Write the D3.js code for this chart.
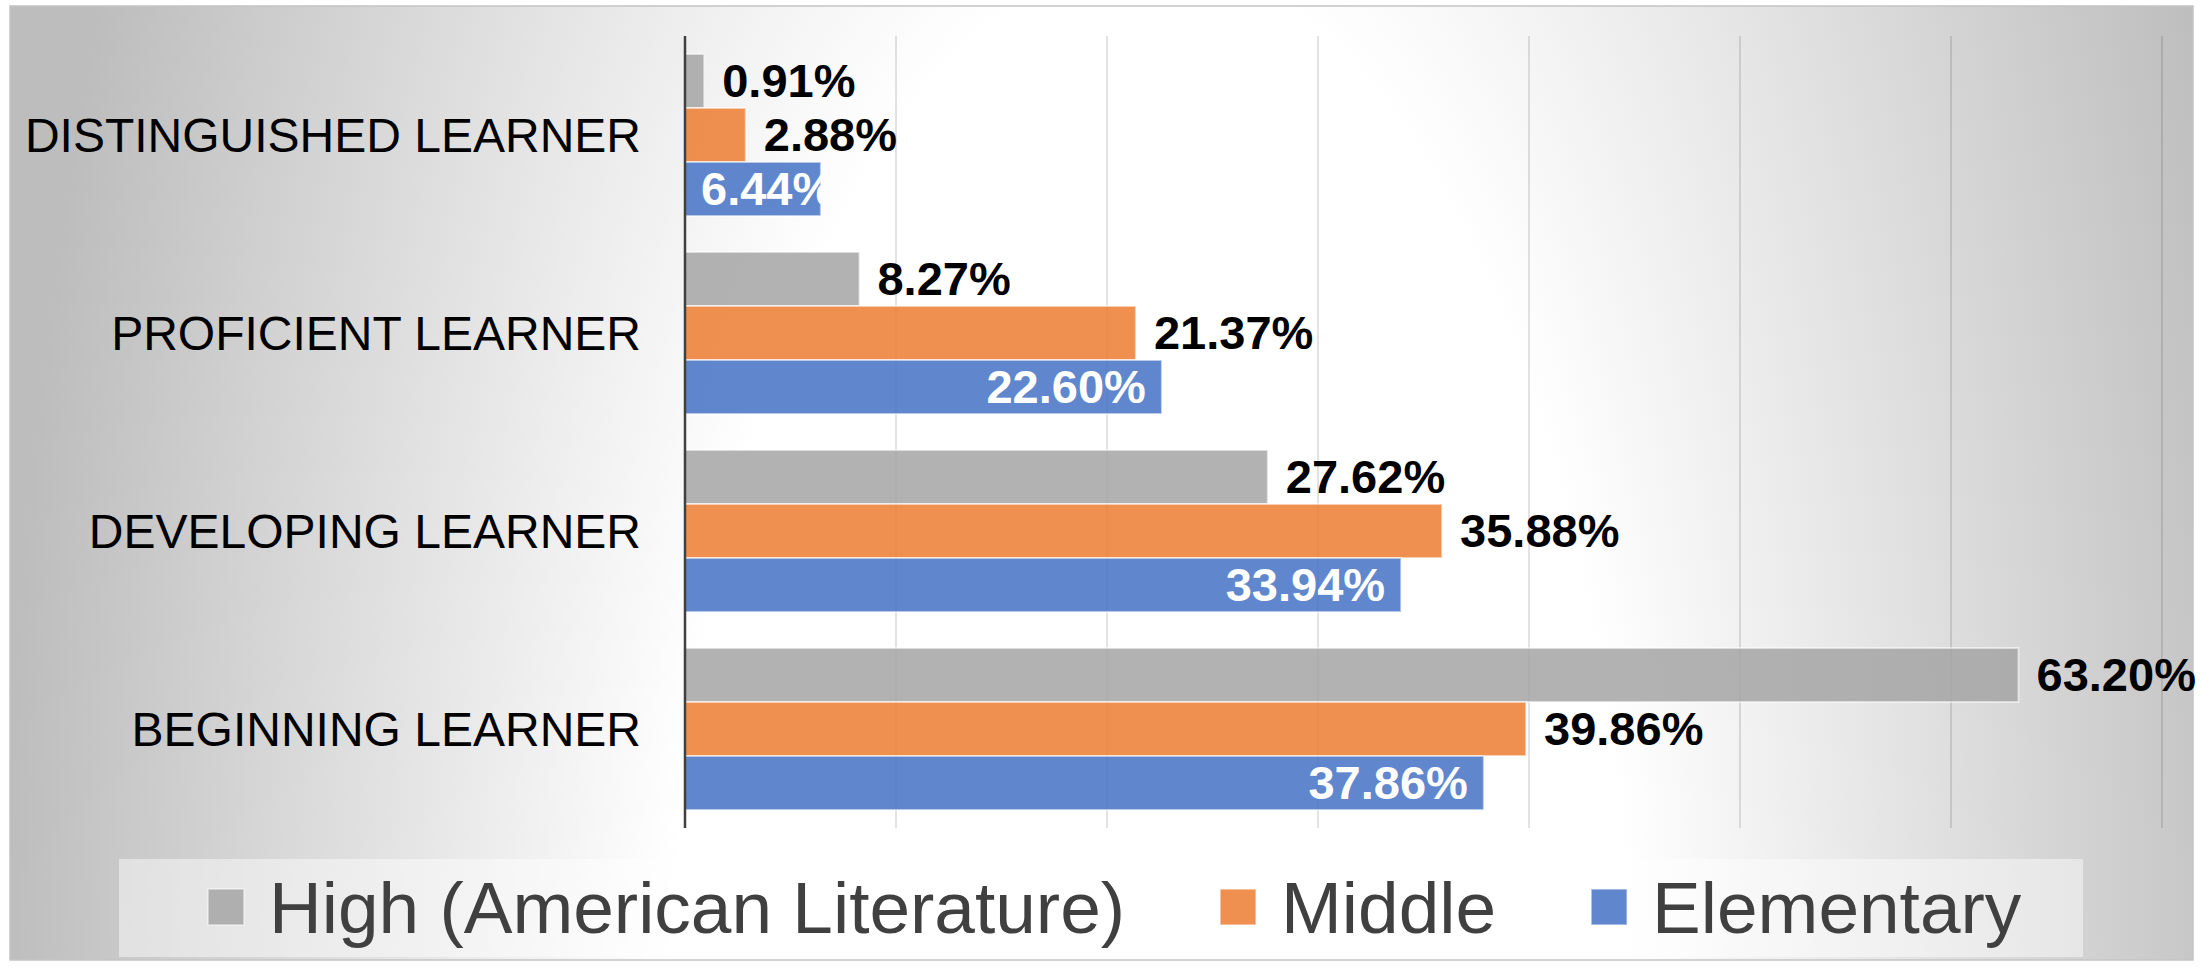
<!DOCTYPE html>
<html>
<head>
<meta charset="utf-8">
<script src="https://cdn.jsdelivr.net/npm/d3@7"></script>
<style>
  body { margin: 0; background: #fff; }
  text { font-family: "Liberation Sans", Arial, sans-serif; }
</style>
</head>
<body>
<svg id="chart" width="2201" height="969"></svg>
<script>
// data
const categories = ['DISTINGUISHED LEARNER', 'PROFICIENT LEARNER', 'DEVELOPING LEARNER', 'BEGINNING LEARNER'];
const seriesNames = ['High (American Literature)', 'Middle', 'Elementary'];
const highValues = [0.91, 8.27, 27.62, 63.20];
const middleValues = [2.88, 21.37, 35.88, 39.86];
const elementaryValues = [6.44, 22.60, 33.94, 37.86];
const xTicks = [0, 10, 20, 30, 40, 50, 60, 70];

const seriesColors = ['#a5a5a5', '#ed7d31', '#4472c4'];
const seriesValues = [highValues, middleValues, elementaryValues];

const svg = d3.select('#chart');

// background gradient
const defs = svg.append('defs');
const grad = defs.append('radialGradient')
  .attr('id', 'bg')
  .attr('gradientUnits', 'userSpaceOnUse')
  .attr('cx', 1150).attr('cy', 1100).attr('r', 1150)
  .attr('gradientTransform', 'translate(0,1100) scale(1,2.34) translate(0,-1100)');
grad.append('stop').attr('offset', 0).attr('stop-color', '#ffffff');
grad.append('stop').attr('offset', 0.42).attr('stop-color', '#ffffff');
grad.append('stop').attr('offset', 1).attr('stop-color', '#bdbdbd');

svg.append('rect')
  .attr('x', 10).attr('y', 6)
  .attr('width', 2183).attr('height', 954)
  .attr('fill', 'url(#bg)')
  .attr('stroke', '#c4c4c4')
  .attr('stroke-width', 1.5);

// scales
const x = d3.scaleLinear().domain([0, 70]).range([685, 2162]);
const y = d3.scaleBand().domain(categories).range([36, 828])
  .paddingInner(0.182).paddingOuter(0.091);
const ySub = d3.scaleBand().domain(seriesNames).range([0, y.bandwidth()]);

// gridlines
svg.append('g')
  .selectAll('line')
  .data(xTicks.slice(1))
  .join('line')
  .attr('x1', d => x(d)).attr('x2', d => x(d))
  .attr('y1', 36).attr('y2', 828)
  .attr('stroke', 'rgba(0,0,0,0.15)')
  .attr('stroke-width', 1.5);

// bars
const rows = [];
categories.forEach((c, i) => {
  seriesNames.forEach((s, j) => {
    rows.push({ cat: c, series: s, idx: j, value: seriesValues[j][i] });
  });
});

const barG = svg.append('g');
barG.selectAll('rect')
  .data(rows)
  .join('rect')
  .attr('x', x(0))
  .attr('y', d => y(d.cat) + ySub(d.series))
  .attr('width', d => x(d.value) - x(0))
  .attr('height', ySub.bandwidth())
  .attr('fill', d => seriesColors[d.idx])
  .attr('fill-opacity', 0.85)
  .attr('stroke', 'rgba(255,255,255,0.55)')
  .attr('stroke-width', 2);

// clip paths for the inside labels
rows.forEach((d, k) => {
  defs.append('clipPath').attr('id', 'clip' + k)
    .append('rect')
    .attr('x', x(0))
    .attr('y', y(d.cat) + ySub(d.series))
    .attr('width', x(d.value) - x(0))
    .attr('height', ySub.bandwidth());
});

// data labels
const fmt = v => v.toFixed(2) + '%';
const labelG = svg.append('g');
rows.forEach((d, k) => {
  const cy = y(d.cat) + ySub(d.series) + ySub.bandwidth() / 2;
  const t = labelG.append('text')
    .attr('y', cy)
    .attr('dy', '0.35em')
    .attr('font-size', 47)
    .attr('font-weight', 'bold')
    .text(fmt(d.value));
  if (d.idx === 2) {
    const w = t.node().getComputedTextLength();
    const tx = Math.max(x(d.value) - 16 - w, x(0) + 16);
    t.attr('x', tx).attr('fill', '#fff').attr('clip-path', 'url(#clip' + k + ')');
  } else {
    t.attr('x', x(d.value) + 18).attr('fill', '#000');
  }
});

// category axis
svg.append('line')
  .attr('x1', x(0)).attr('x2', x(0))
  .attr('y1', 36).attr('y2', 828)
  .attr('stroke', '#404040')
  .attr('stroke-width', 2.5);

svg.append('g')
  .selectAll('text')
  .data(categories)
  .join('text')
  .attr('x', 641)
  .attr('y', d => y(d) + y.bandwidth() / 2)
  .attr('dy', '0.35em')
  .attr('text-anchor', 'end')
  .attr('font-size', 48)
  .attr('fill', '#000')
  .text(d => d);

// legend
svg.append('rect')
  .attr('x', 119).attr('y', 859)
  .attr('width', 1964).attr('height', 98)
  .attr('fill', 'rgba(255,255,255,0.45)');

const legend = svg.append('g');
let lx = 208;
seriesNames.forEach((s, j) => {
  legend.append('rect')
    .attr('x', lx).attr('y', 889)
    .attr('width', 36).attr('height', 36)
    .attr('fill', seriesColors[j])
    .attr('fill-opacity', 0.85)
    .attr('stroke', 'rgba(255,255,255,0.55)')
    .attr('stroke-width', 1.5);
  const t = legend.append('text')
    .attr('x', lx + 61)
    .attr('y', 907)
    .attr('dy', '0.35em')
    .attr('font-size', 73)
    .attr('fill', '#404040')
    .text(s);
  lx += 61 + t.node().getComputedTextLength() + 95;
});
</script>
</body>
</html>
